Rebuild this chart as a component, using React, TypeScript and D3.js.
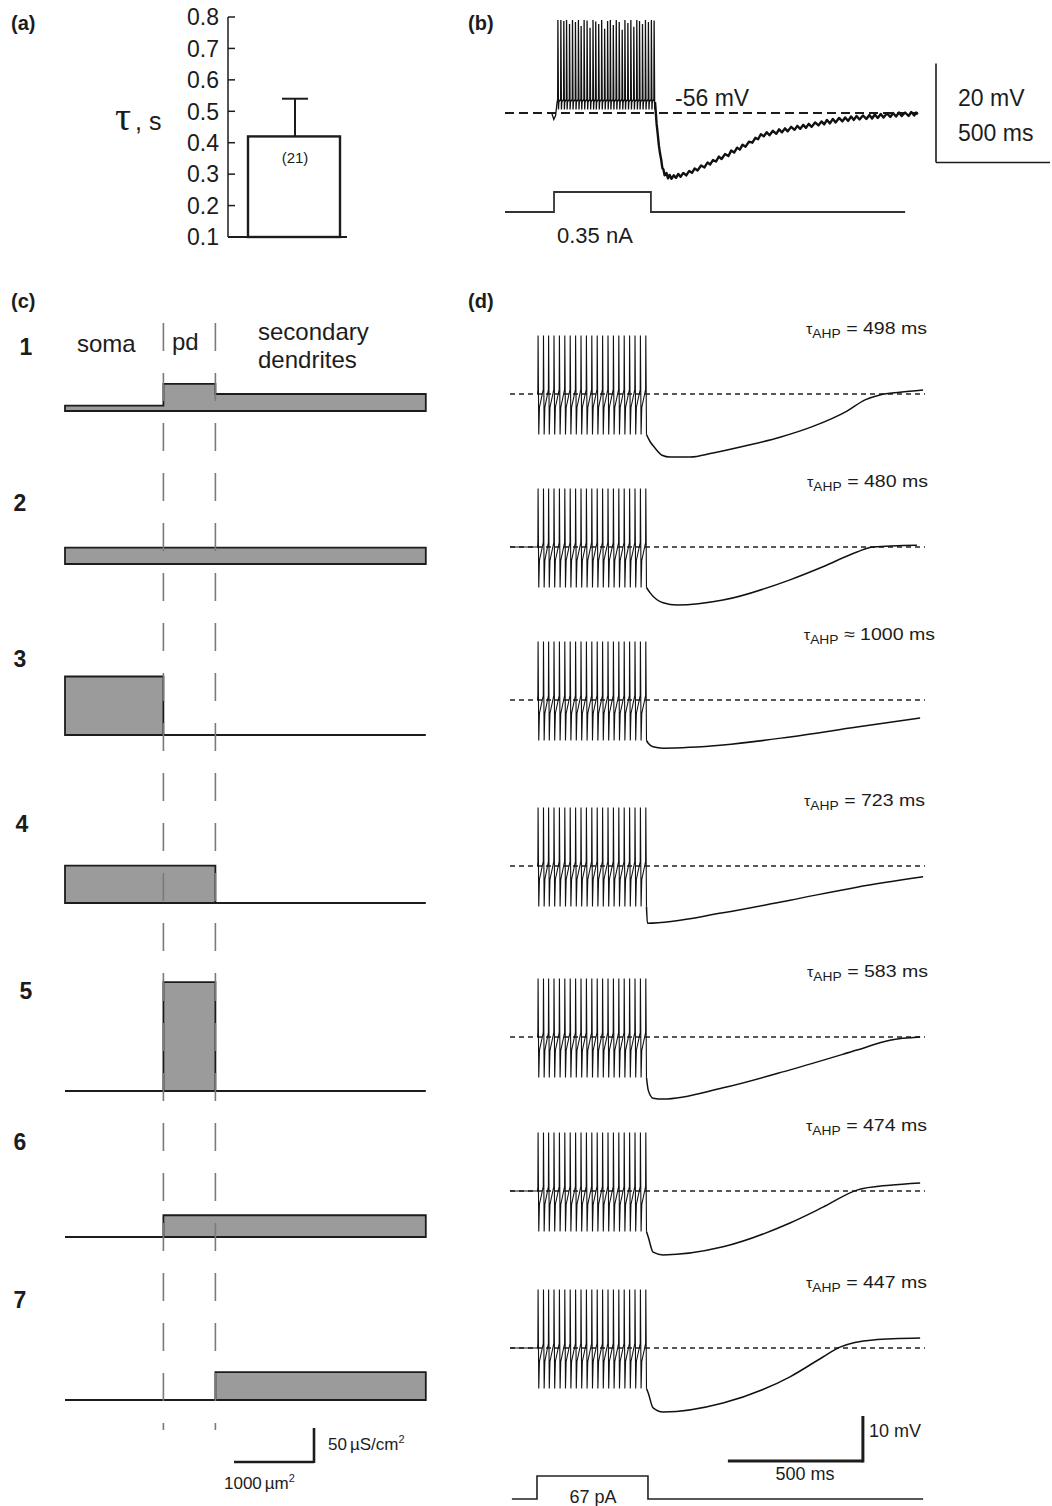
import * as d3 from 'd3';

const SANS = "'Liberation Sans', Arial, Helvetica, sans-serif";
const INK = '#1c1c1c';

// (a) AHP time constant, mean + error, n
const aTicks = [0.1, 0.2, 0.3, 0.4, 0.5, 0.6, 0.7, 0.8];
const aMean = 0.42;
const aErr = 0.12;
const aN = 21;

// (b) recorded response to a 0.35 nA step
const bRest = -56;
const bStart = [[205, -56], [214, -57.3], [222, -56.5], [228, -54]];
const bSpikeTimes = [232, 245, 258, 270, 283, 296, 309, 322, 334, 347, 360, 373, 386, 398, 411, 424, 437, 450, 462, 475, 488, 501, 514, 526, 539, 552, 565, 578, 590, 603, 616, 629, 642, 654];
const bSpikePeaks = [-37.2, -37.2, -37.4, -37.2, -38.0, -37.2, -37.6, -37.2, -38.4, -37.2, -37.3, -38.8, -37.2, -37.5, -38.0, -37.2, -39.0, -37.4, -37.2, -38.2, -37.2, -37.6, -39.2, -37.2, -37.8, -37.2, -38.6, -37.2, -37.4, -38.0, -37.2, -37.6, -37.2, -37.3];
const bRecovery = [[660, -55], [665, -58.2], [670, -60.3], [675, -62.6], [680, -64.2], [685, -65.4], [690, -67.1], [695, -67.4], [700, -68.6], [708, -68.1], [715, -69.2], [722, -68.5], [730, -69.3], [740, -68.6], [750, -69.1], [760, -68.3], [770, -68.9], [782, -68.1], [795, -68.6], [808, -67.7], [820, -68.1], [832, -67.2], [845, -67.6], [860, -66.6], [875, -67.0], [888, -66.0], [900, -66.4], [912, -65.5], [925, -65.8], [938, -64.8], [950, -65.3], [965, -64.3], [980, -64.7], [992, -63.6], [1005, -64.0], [1018, -63.0], [1030, -63.4], [1042, -62.4], [1055, -62.8], [1070, -61.8], [1085, -62.0], [1098, -61.0], [1110, -61.3], [1122, -60.3], [1135, -60.7], [1148, -59.9], [1160, -60.5], [1175, -59.6], [1190, -60.2], [1202, -59.3], [1215, -59.9], [1228, -59.1], [1240, -59.7], [1255, -58.8], [1270, -59.4], [1282, -58.6], [1295, -59.2], [1308, -58.4], [1320, -59.0], [1332, -58.2], [1345, -58.8], [1360, -57.9], [1375, -58.5], [1388, -57.7], [1400, -58.3], [1412, -57.4], [1425, -58.1], [1438, -57.2], [1450, -57.9], [1465, -57.0], [1480, -57.7], [1492, -56.9], [1505, -57.6], [1518, -56.7], [1530, -57.4], [1542, -56.6], [1555, -57.3], [1570, -56.5], [1585, -57.2], [1598, -56.4], [1610, -57.1], [1622, -56.3], [1635, -57.0], [1648, -56.2], [1660, -56.9], [1675, -56.1], [1690, -56.8], [1702, -56.0], [1715, -56.7], [1728, -55.9], [1740, -56.6], [1755, -55.9], [1770, -56.6], [1782, -55.8], [1795, -56.5], [1803, -55.9], [1810, -56.3]];
const bStep = [[0, 0], [215, 0], [215, 0.35], [640, 0.35], [640, 0], [1755, 0]];

// (c) channel density per compartment (uS/cm2), compartment areas (um2)
const compArea = [1230, 650, 2630];
const rowLabels = ['1', '2', '3', '4', '5', '6', '7'];
const gDensity = [
  [8, 40, 25],
  [24, 24, 24],
  [86, 0, 0],
  [55, 55, 0],
  [0, 160, 0],
  [0, 32, 32],
  [0, 0, 41],
];

// (d) simulated responses to a 67 pA step
const dSpikeTimes = [104, 124, 143, 163, 183, 203, 223, 243, 263, 283, 303, 323, 343, 363, 383, 403, 423, 443, 463, 483, 503];
const dSpikePeak = 13;
const dSpikeTrough = -9;
const dTau = ['= 498 ms', '= 480 ms', '\u2248 1000 ms', '= 723 ms', '= 583 ms', '= 474 ms', '= 447 ms'];
const dFromZero = [false, true, false, false, false, true, true];
const dAhp = [
  [[518, -10.5], [537, -12], [563, -13.6], [593, -14], [667, -14], [752, -13.1], [889, -11.3], [1000, -9.6], [1122, -7.2], [1248, -3.8], [1315, -1.3], [1370, -0.2], [1444, 0.4], [1530, 0.9]],
  [[519, -10.2], [567, -12.4], [619, -12.9], [789, -11.8], [1037, -7.3], [1159, -4.4], [1285, -1.1], [1345, 0], [1507, 0.4]],
  [[512, -9.6], [530, -10.4], [567, -10.7], [789, -10], [1037, -8.2], [1285, -6], [1519, -4]],
  [[509, -12.7], [789, -10.4], [1037, -7.6], [1285, -4.7], [1530, -2.4]],
  [[512, -11.8], [530, -13.6], [567, -13.8], [789, -11.3], [1037, -7.3], [1285, -2.9], [1407, -0.7], [1519, 0]],
  [[512, -10.2], [530, -13.6], [567, -14.2], [789, -12.4], [1037, -7.1], [1159, -3.6], [1285, 0.2], [1407, 1.3], [1519, 1.8]],
  [[512, -10], [530, -13.3], [567, -14.2], [789, -12.2], [1037, -6.4], [1159, -2], [1222, 0.2], [1345, 1.8], [1519, 2.2]],
];
const dStep = [[7, 0], [100, 0], [100, 67], [511, 67], [511, 0], [1530, 0]];

const cBases = [411, 564, 735, 903, 1091, 1237, 1400];
const cLabelX = [26, 20, 20, 22, 26, 20, 20];
const cLabelY = [355, 511, 667, 832, 999, 1150, 1308];
const dBases = [394, 547, 700, 866, 1037, 1191, 1348];
const dLabelX = [927, 928, 935, 925, 928, 927, 927];

type Pt = number[];

export default function App() {
  // (a)
  const ay = d3.scaleLinear().domain([0.1, 0.8]).range([237, 17]);

  // (b)
  const bx = d3.scaleLinear().domain([0, 500]).range([505, 619]);
  const by = d3.scaleLinear().domain([bRest, bRest + 20]).range([113, 14]);
  const bi = d3.scaleLinear().domain([0, 0.35]).range([212, 192]);
  const bLine = d3.line<Pt>().x(d => bx(d[0])).y(d => by(d[1]));
  const bBurst: Pt[] = [...bStart];
  bSpikeTimes.forEach((t, i) => {
    bBurst.push([t - 1, -53.2], [t, bSpikePeaks[i]], [t + 2.5, -55.3], [t + 4, -53.8]);
  });
  const bRec: Pt[] = [bBurst[bBurst.length - 1], ...bRecovery];
  const bStepLine = d3.line<Pt>().x(d => bx(d[0])).y(d => bi(d[1]));

  // (c)
  const cx = d3.scaleLinear().domain([0, 1000]).range([65, 145]);
  const gy = d3.scaleLinear().domain([0, 50]).range([0, 34]);
  const ends = d3.cumsum(compArea);
  const starts = [0, ...Array.from(ends).slice(0, -1)];
  const total = ends[ends.length - 1];
  const profile = (g: number[], base: number) => {
    const p = d3.path();
    p.moveTo(cx(0), base);
    g.forEach((v, i) => {
      p.lineTo(cx(starts[i]), base - gy(v));
      p.lineTo(cx(ends[i]), base - gy(v));
    });
    p.lineTo(cx(total), base);
    p.closePath();
    return p.toString();
  };

  // (d)
  const dx = d3.scaleLinear().domain([0, 500]).range([510, 645]);
  const di = d3.scaleLinear().domain([0, 67]).range([1499, 1476]);
  const dStepLine = d3.line<Pt>().x(d => dx(d[0])).y(d => di(d[1]));

  const dTrace = (r: number) => {
    const y = d3.scaleLinear().domain([0, 10]).range([dBases[r], dBases[r] - 45]);
    const pts: Pt[] = dFromZero[r] ? [[0, 0], [dSpikeTimes[0] - 2, 0]] : [[dSpikeTimes[0] - 2, 0]];
    dSpikeTimes.forEach((t, i) => {
      pts.push([t - 0.8, 1], [t, dSpikePeak], [t + 2.5, dSpikeTrough]);
      if (i < dSpikeTimes.length - 1) pts.push([t + 5, -3]);
    });
    const spikes = d3.line<Pt>().x(d => dx(d[0])).y(d => y(d[1]))(pts) || '';
    const ahp = d3.line<Pt>().x(d => dx(d[0])).y(d => y(d[1])).curve(d3.curveMonotoneX)([pts[pts.length - 1], ...dAhp[r]]) || '';
    return { spikes, ahp };
  };

  const txt = { fontFamily: SANS, fill: INK } as const;

  return (
    <svg width={1052} height={1506} style={{ position: 'absolute', left: 0, top: 0, background: '#fff' }}>
      {/* ---------- (a) ---------- */}
      <text x={11} y={30} fontSize={20} fontWeight="bold" {...txt}>(a)</text>
      <text x={115} y={130} fontSize={40} fontFamily="'Liberation Serif', 'DejaVu Serif', serif" fill={INK}>τ</text>
      <text x={135} y={130} fontSize={25} {...txt}>, s</text>
      <line x1={228} x2={228} y1={ay(0.8)} y2={ay(0.1)} stroke={INK} strokeWidth={1.5} />
      <line x1={228} x2={347} y1={ay(0.1)} y2={ay(0.1)} stroke={INK} strokeWidth={1.8} />
      {aTicks.map(t => (
        <g key={t}>
          <line x1={228} x2={235} y1={ay(t)} y2={ay(t)} stroke={INK} strokeWidth={1.5} />
          <text x={219} y={ay(t)} dy="0.36em" textAnchor="end" fontSize={23} {...txt}>{t.toFixed(1)}</text>
        </g>
      ))}
      <line x1={295} x2={295} y1={ay(aMean)} y2={ay(aMean + aErr)} stroke={INK} strokeWidth={2} />
      <line x1={282} x2={308} y1={ay(aMean + aErr)} y2={ay(aMean + aErr)} stroke={INK} strokeWidth={2} />
      <rect x={248} y={ay(aMean)} width={92} height={ay(0.1) - ay(aMean)} fill="#fff" stroke={INK} strokeWidth={2.4} />
      <text x={295} y={163} textAnchor="middle" fontSize={15} {...txt}>({aN})</text>

      {/* ---------- (b) ---------- */}
      <text x={468} y={30} fontSize={20} fontWeight="bold" {...txt}>(b)</text>
      <line x1={bx(0)} x2={bx(1811)} y1={by(bRest)} y2={by(bRest)} stroke={INK} strokeWidth={1.8} strokeDasharray="9 5" />
      <path d={bLine(bBurst) || ''} fill="none" stroke="#111" strokeWidth={1.3} />
      <path d={bLine(bRec) || ''} fill="none" stroke="#111" strokeWidth={2.4} strokeLinejoin="round" />
      <text x={675} y={106} fontSize={23} {...txt}>{`${bRest} mV`}</text>
      <path d={bStepLine(bStep) || ''} fill="none" stroke="#333" strokeWidth={1.8} />
      <text x={557} y={243} fontSize={22} {...txt}>0.35 nA</text>
      <line x1={936} x2={936} y1={by(bRest + 10)} y2={by(bRest - 10)} stroke={INK} strokeWidth={1.6} />
      <line x1={936} x2={936 + (bx(500) - bx(0))} y1={by(bRest - 10)} y2={by(bRest - 10)} stroke={INK} strokeWidth={1.6} />
      <text x={958} y={106} fontSize={23} {...txt}>20 mV</text>
      <text x={958} y={141} fontSize={23} {...txt}>500 ms</text>

      {/* ---------- (c) ---------- */}
      <text x={11} y={308} fontSize={20} fontWeight="bold" {...txt}>(c)</text>
      <text x={77} y={352} fontSize={24} {...txt}>soma</text>
      <text x={172} y={350} fontSize={24} {...txt}>pd</text>
      <text x={258} y={340} fontSize={24} {...txt}>secondary</text>
      <text x={258} y={368} fontSize={24} {...txt}>dendrites</text>
      {gDensity.map((g, r) => (
        <path key={r} d={profile(g, cBases[r])} fill="#9b9b9b" stroke={INK} strokeWidth={1.8} />
      ))}
      {rowLabels.map((l, r) => (
        <text key={l} x={cLabelX[r]} y={cLabelY[r]} fontSize={23} fontWeight="bold" textAnchor="middle" {...txt}>{l}</text>
      ))}
      {[ends[0], ends[1]].map(a => (
        <line key={a} x1={cx(a)} x2={cx(a)} y1={323} y2={1430} stroke="#7a7a7a" strokeWidth={1.6} strokeDasharray="28 22" />
      ))}
      <line x1={cx(0) + 169} x2={cx(1000) + 169} y1={1462} y2={1462} stroke={INK} strokeWidth={2.6} />
      <line x1={cx(1000) + 169} x2={cx(1000) + 169} y1={1463} y2={1462 - gy(50)} stroke={INK} strokeWidth={2.6} />
      <text x={328} y={1450} fontSize={17} {...txt}>50<tspan dx={3}>µS/cm</tspan><tspan fontSize={11} dy={-7}>2</tspan></text>
      <text x={224} y={1489} fontSize={17} {...txt}>1000<tspan dx={3}>µm</tspan><tspan fontSize={11} dy={-7}>2</tspan></text>

      {/* ---------- (d) ---------- */}
      <text x={468} y={308} fontSize={20} fontWeight="bold" {...txt}>(d)</text>
      {dBases.map((base, r) => {
        const tr = dTrace(r);
        return (
          <g key={r}>
            <line x1={dx(0)} x2={dx(1537)} y1={base} y2={base} stroke="#222" strokeWidth={1.5} strokeDasharray="5 4" />
            <path d={tr.spikes} fill="none" stroke="#111" strokeWidth={1.1} />
            <path d={tr.ahp} fill="none" stroke="#111" strokeWidth={1.5} />
            <g transform={`translate(${dLabelX[r]},${base - 60}) scale(1.15,1)`}>
              <text textAnchor="end" fontSize={17} {...txt} style={{ whiteSpace: 'pre' }}>
                <tspan fontSize={14}>τ</tspan>
                <tspan fontSize={12} dy={4}>AHP</tspan>
                <tspan dy={-4}>{' ' + dTau[r]}</tspan>
              </text>
            </g>
          </g>
        );
      })}
      <line x1={dx(807)} x2={dx(1307)} y1={1461} y2={1461} stroke={INK} strokeWidth={3} />
      <line x1={dx(1307)} x2={dx(1307)} y1={1462.5} y2={1461 - 45} stroke={INK} strokeWidth={3} />
      <text x={869} y={1437} fontSize={18} {...txt}>10 mV</text>
      <text x={805} y={1480} fontSize={18} textAnchor="middle" {...txt}>500 ms</text>
      <path d={dStepLine(dStep) || ''} fill="none" stroke="#222" strokeWidth={1.6} />
      <text x={593} y={1503} fontSize={18} textAnchor="middle" {...txt}>67 pA</text>
    </svg>
  );
}
